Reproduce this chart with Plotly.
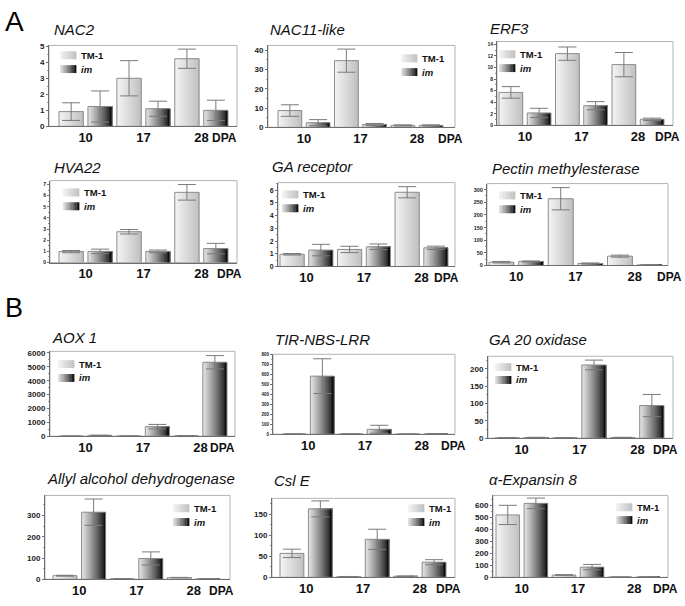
import plotly.graph_objects as go

# ---------------- data ----------------
days = ["10", "17", "28"]
series_names = ["TM-1", "im"]
genes = ["NAC2", "NAC11-like", "ERF3", "HVA22", "GA receptor", "Pectin methylesterase",
         "AOX 1", "TIR-NBS-LRR", "GA 20 oxidase", "Allyl alcohol dehydrogenase", "Csl E",
         "α-Expansin 8"]

nac2_tm1 = [0.92, 3.00, 4.22]
nac2_tm1_sd = [0.55, 1.10, 0.60]
nac2_im = [1.24, 1.10, 1.00]
nac2_im_sd = [0.97, 0.47, 0.63]

nac11_tm1 = [8.7, 34.6, 1.0]
nac11_tm1_sd = [3.0, 6.0, 0.3]
nac11_im = [2.4, 1.5, 1.0]
nac11_im_sd = [1.6, 0.5, 0.3]

erf3_tm1 = [5.7, 12.4, 10.5]
erf3_tm1_sd = [1.0, 1.15, 2.1]
erf3_im = [2.15, 3.4, 1.05]
erf3_im_sd = [0.8, 0.7, 0.2]

hva22_tm1 = [0.98, 2.76, 6.3]
hva22_tm1_sd = [0.1, 0.2, 0.7]
hva22_im = [1.0, 1.0, 1.25]
hva22_im_sd = [0.2, 0.12, 0.47]

garec_tm1 = [0.96, 1.34, 5.84]
garec_tm1_sd = [0.06, 0.25, 0.44]
garec_im = [1.29, 1.55, 1.47]
garec_im_sd = [0.45, 0.22, 0.13]

pme_tm1 = [13, 264, 37]
pme_tm1_sd = [3, 44, 4]
pme_im = [16, 8, 2]
pme_im_sd = [2, 2, 0.5]

aox1_tm1 = [5, 10, 30]
aox1_tm1_sd = [2, 3, 5]
aox1_im = [60, 690, 5333]
aox1_im_sd = [15, 160, 480]

tir_tm1 = [2, 3, 1]
tir_tm1_sd = [0.5, 0.5, 0.3]
tir_im = [585, 50, 4]
tir_im_sd = [175, 40, 1]

ga20_tm1 = [1, 1, 2]
ga20_tm1_sd = [0.3, 0.3, 0.5]
ga20_im = [2, 211, 94]
ga20_im_sd = [0.5, 14, 32]

allyl_tm1 = [17, 2, 8]
allyl_tm1_sd = [2, 0.5, 1]
allyl_im = [316, 98, 2]
allyl_im_sd = [62, 31, 0.5]

csle_tm1 = [57, 1.5, 2.5]
csle_tm1_sd = [10, 0.5, 0.5]
csle_im = [163, 90.5, 36]
csle_im_sd = [19, 24, 6]

exp8_tm1 = [518, 19, 2]
exp8_tm1_sd = [80, 3, 0.5]
exp8_im = [614, 85, 3]
exp8_im_sd = [44, 22, 0.5]

tm1_values = [nac2_tm1, nac11_tm1, erf3_tm1, hva22_tm1, garec_tm1, pme_tm1,
              aox1_tm1, tir_tm1, ga20_tm1, allyl_tm1, csle_tm1, exp8_tm1]
tm1_errors = [nac2_tm1_sd, nac11_tm1_sd, erf3_tm1_sd, hva22_tm1_sd, garec_tm1_sd, pme_tm1_sd,
              aox1_tm1_sd, tir_tm1_sd, ga20_tm1_sd, allyl_tm1_sd, csle_tm1_sd, exp8_tm1_sd]
im_values = [nac2_im, nac11_im, erf3_im, hva22_im, garec_im, pme_im,
             aox1_im, tir_im, ga20_im, allyl_im, csle_im, exp8_im]
im_errors = [nac2_im_sd, nac11_im_sd, erf3_im_sd, hva22_im_sd, garec_im_sd, pme_im_sd,
             aox1_im_sd, tir_im_sd, ga20_im_sd, allyl_im_sd, csle_im_sd, exp8_im_sd]

y_max = [5.05, 42.5, 14.5, 7.35, 6.6, 324, 6120, 805, 236, 395, 188, 680]
y_dtick = [1, 10, 2, 1, 1, 50, 1000, 100, 50, 100, 50, 100]

# ---------------- layout (pixel geometry) ----------------
W, H = 685, 606
# left, right, top, bottom of plot box; first bar left, last bar right
boxes = [
    (49, 237, 43, 125, 59, 228),
    (268, 455, 43, 126, 278, 443),
    (497, 673, 39, 124, 499, 664),
    (50, 237, 180, 263, 59, 228),
    (278, 455, 182, 267, 280, 448),
    (487, 668, 183, 266, 489, 662),
    (50, 235, 353, 439, 59, 227),
    (273, 455, 356, 437, 282, 448),
    (488, 673, 358, 441, 495, 664),
    (45, 230, 499, 584, 53, 220),
    (272, 455, 502, 582, 280, 446),
    (493, 668, 499, 582, 496, 660),
]
ytick_size = [8, 8, 5, 5, 7, 5.5, 8, 4.5, 8, 8, 8, 8]
title_pos = [(52, 38), (268, 38), (488, 36), (52, 177), (270, 176), (490, 178),
             (50, 350), (273, 352), (487, 352), (45, 493), (272, 495), (487, 494)]
dpa_x = [210, 436, 653, 215, 432, 655, 208, 439, 651, 207, 434, 651]
# legend: swatch left, TM-1 swatch top, im swatch top (None = no legend)
legend_pos = [(60, 49, 63), (401, 52, 66), (499, 48, 62), (63, 188, 202), (282, 190, 204),
              (499, 191, 205), (58, 362, 376), None, (495, 365, 378), (173, 508, 522),
              (408, 508, 522), (616, 507, 520)]

BAR_W = 0.84
K = 16


def tm1_color(t):
    v = int(round(244 - 52 * t))
    return f"rgb({v},{v},{v})"


def im_color(t):
    v = int(round(232 * (1 - t) ** 0.8))
    return f"rgb({v},{v},{v})"


color_funcs = [tm1_color, im_color]


def px_x(px):
    return px / W


def px_y(py):
    return 1 - py / H


fig = go.Figure()
layout = dict(width=W, height=H, margin=dict(l=0, r=0, t=0, b=0),
              paper_bgcolor="white", plot_bgcolor="white", showlegend=False,
              barmode="overlay", font=dict(family="Liberation Sans, Arial, sans-serif"))
shapes = []
annotations = []

for p in range(12):
    L, R, T, B, fL, lR = boxes[p]
    pitch = (lR - fL) / (5 + BAR_W)
    xr = [-BAR_W / 2 - (fL - L) / pitch, 5 + BAR_W / 2 + (R - lR) / pitch]
    sfx = "" if p == 0 else str(p + 1)
    xa, ya = "x" + sfx, "y" + sfx

    series = [(tm1_values[p], tm1_errors[p]), (im_values[p], im_errors[p])]
    for s, (vals, errs) in enumerate(series):
        xs = [2 * i + s for i in range(len(days))]
        for k in range(K):
            fig.add_trace(go.Bar(
                x=xs, y=vals, xaxis=xa, yaxis=ya,
                width=BAR_W * (1 - k / K), offset=-BAR_W / 2 + BAR_W * k / K,
                marker=dict(color=color_funcs[s]((k + 0.5) / K), line=dict(width=0)),
                hoverinfo="skip", name=series_names[s]))
        fig.add_trace(go.Bar(
            x=xs, y=vals, xaxis=xa, yaxis=ya, width=BAR_W, name=series_names[s],
            marker=dict(color="rgba(0,0,0,0)", line=dict(color="#8c8c8c", width=1)),
            error_y=dict(type="data", array=errs, symmetric=True, color="#7a7a7a",
                         thickness=1, width=9)))

    layout["xaxis" + sfx] = dict(
        domain=[px_x(L), px_x(R)], anchor=ya, range=xr,
        tickvals=[2 * i + 0.5 for i in range(len(days))], ticktext=days,
        tickfont=dict(size=13, color="#111", weight="bold"),
        showgrid=False, zeroline=False, showline=True, linecolor="#6e6e6e", linewidth=1,
        ticks="", ticklabelstandoff=-1, fixedrange=True)
    layout["yaxis" + sfx] = dict(
        domain=[px_y(B), px_y(T)], anchor=xa, range=[0, y_max[p]], dtick=y_dtick[p],
        tickfont=dict(size=ytick_size[p], color="#222", weight="bold"),
        showgrid=False, zeroline=False, showline=True, linecolor="#6e6e6e", linewidth=1,
        ticks="outside", ticklen=2, tickcolor="#6e6e6e",
        minor=dict(ticks="outside", ticklen=1, tickcolor="#999", nticks=3),
        fixedrange=True)
    # light frame on top and right
    shapes.append(dict(type="rect", xref=xa + " domain", yref=ya + " domain",
                       x0=0, x1=1, y0=0, y1=1, line=dict(color="#b4b4b4", width=1),
                       layer="below"))
    # title
    tx, ty = title_pos[p]
    annotations.append(dict(text="<i>" + genes[p] + "</i>", xref="paper", yref="paper",
                            x=px_x(tx), y=px_y(ty), xanchor="left", yanchor="bottom",
                            showarrow=False, font=dict(size=15, color="#111")))
    # DPA label
    annotations.append(dict(text="<b>DPA</b>", xref="paper", yref="paper",
                            x=px_x(dpa_x[p]), y=px_y(B + 12), xanchor="left",
                            yanchor="middle", showarrow=False,
                            font=dict(size=12, color="#111")))
    # legend
    if legend_pos[p] is not None:
        lx, t1, t2 = legend_pos[p]
        sw, sh = 16, 8
        for s, top in enumerate([t1, t2]):
            n = 12
            for k in range(n):
                shapes.append(dict(type="rect", xref="paper", yref="paper",
                                   x0=px_x(lx + sw * k / n), x1=px_x(lx + sw * (k + 1) / n + 0.4),
                                   y0=px_y(top + sh), y1=px_y(top),
                                   fillcolor=color_funcs[s]((k + 0.5) / n),
                                   line=dict(width=0)))
            label = "<b>TM-1</b>" if s == 0 else "<b><i>im</i></b>"
            annotations.append(dict(text=label, xref="paper", yref="paper",
                                    x=px_x(lx + sw + 3), y=px_y(top + sh / 2),
                                    xanchor="left", yanchor="middle", showarrow=False,
                                    font=dict(size=9.5, color="#111")))

# panel letters
annotations.append(dict(text="A", xref="paper", yref="paper", x=px_x(3), y=px_y(1),
                        xanchor="left", yanchor="top", showarrow=False,
                        font=dict(size=28, color="#000")))
annotations.append(dict(text="B", xref="paper", yref="paper", x=px_x(3), y=px_y(292),
                        xanchor="left", yanchor="top", showarrow=False,
                        font=dict(size=27, color="#000")))

layout["shapes"] = shapes
layout["annotations"] = annotations
fig.update_layout(**layout)
fig.write_html("out.html", config={"displayModeBar": False},
               post_script="document.body.style.margin='0';document.body.style.overflow='hidden';")
